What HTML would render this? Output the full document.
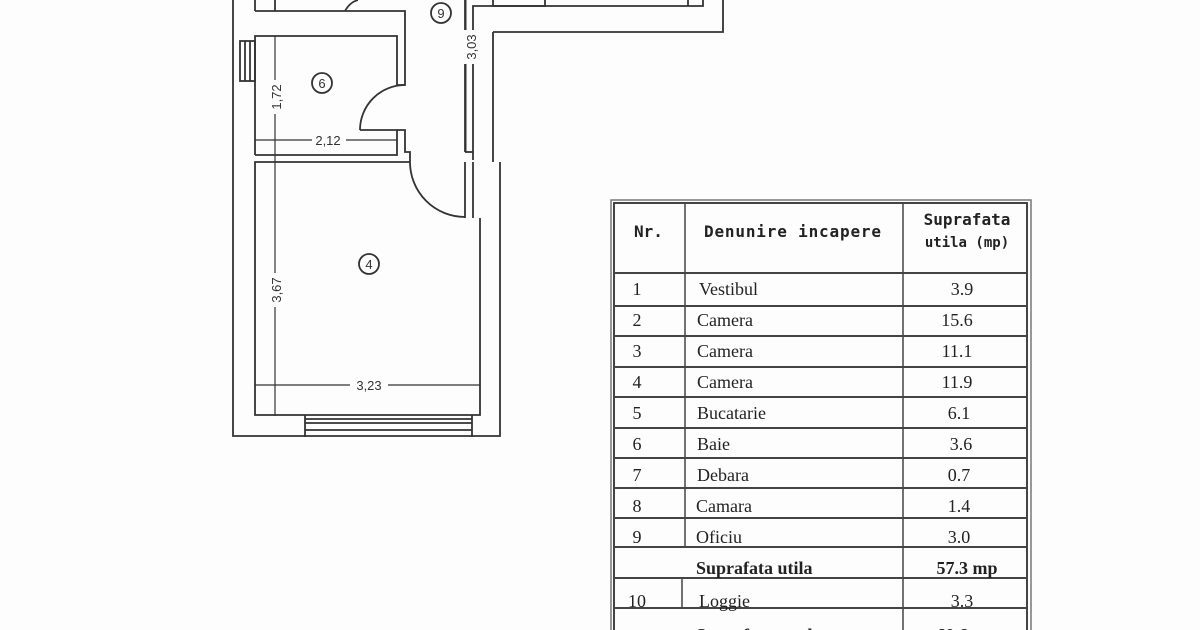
<!DOCTYPE html>
<html><head><style>
html,body{margin:0;padding:0;background:#fff;}
svg{display:block}
.t{font-family:"Liberation Serif",serif;font-size:18px;fill:#222}
.h{font-family:"DejaVu Sans Mono","Liberation Mono",monospace;font-size:16px;fill:#222;font-weight:bold}
.d{font-family:"Liberation Sans",sans-serif;font-size:13px;fill:#333}
</style></head><body>
<svg width="1200" height="630" viewBox="0 0 1200 630" xmlns="http://www.w3.org/2000/svg">
<rect width="1200" height="630" fill="#fdfdfd"/>
<g stroke="#333" stroke-width="1.8" fill="none">
<polyline points="233,0 233,436 500,436 500,162"/>
<line x1="493" y1="32" x2="493" y2="162"/>
<polyline points="493,32 723,32 723,0"/>
<polyline points="473,160 473,6 703,6 703,0"/>
<line x1="465" y1="0" x2="465" y2="152"/>
<line x1="465" y1="152" x2="473" y2="152"/>
<line x1="465" y1="162" x2="465" y2="218"/>
<line x1="473" y1="162" x2="473" y2="218"/>
<polyline points="480,218 480,415 255,415 255,162 410,162"/>
<line x1="305" y1="415" x2="305" y2="437"/>
<line x1="472" y1="415" x2="472" y2="437"/>
<line x1="305" y1="419" x2="472" y2="419"/>
<line x1="305" y1="423" x2="472" y2="423"/>
<line x1="305" y1="430" x2="472" y2="430"/>
<path d="M410,162 A55,55 0 0 0 465,217"/>
<polyline points="255,155 255,36 397,36 397,85 405,85 405,11 255,11"/>
<polyline points="360,130 397,130 397,155 255,155"/>
<polyline points="397,130 405,130 405,152 410,152 410,162"/>
<path d="M405,85 A45,45 0 0 0 360,130"/>
<line x1="255" y1="11" x2="255" y2="0"/>
<line x1="275" y1="11" x2="275" y2="0"/>
<rect x="240" y="41" width="15" height="40"/>
<line x1="245" y1="41" x2="245" y2="81"/><line x1="250" y1="41" x2="250" y2="81"/>
<path d="M345,11 Q350,2 358,0"/>
<polyline points="493,0 493,6 545,6 545,0"/>
<line x1="688" y1="0" x2="688" y2="6"/>
<line x1="275" y1="36" x2="275" y2="162" stroke-width="1.2"/>
<line x1="255" y1="140" x2="397" y2="140" stroke-width="1.2"/>
<line x1="275" y1="162" x2="275" y2="416" stroke-width="1.2"/>
<line x1="255" y1="385" x2="480" y2="385" stroke-width="1.2"/>
<line x1="466" y1="0" x2="466" y2="152" stroke-width="1"/>
<circle cx="441" cy="13" r="10"/><circle cx="322" cy="83" r="10"/><circle cx="369" cy="264" r="10"/>
</g>
<g class="d" text-anchor="middle">
<text x="441" y="18">9</text><text x="322" y="88">6</text><text x="369" y="269">4</text>
<rect x="312" y="132" width="34" height="14" fill="#fdfdfd"/><text x="328" y="145">2,12</text>
<rect x="350" y="377" width="38" height="14" fill="#fdfdfd"/><text x="369" y="390">3,23</text>
<g transform="translate(281,97) rotate(-90)"><rect x="-17" y="-12" width="34" height="14" fill="#fdfdfd"/><text x="0" y="0">1,72</text></g>
<g transform="translate(281,290) rotate(-90)"><rect x="-17" y="-12" width="34" height="14" fill="#fdfdfd"/><text x="0" y="0">3,67</text></g>
<g transform="translate(476,47) rotate(-90)"><rect x="-17" y="-12" width="34" height="14" fill="#fdfdfd"/><text x="0" y="0">3,03</text></g>
</g>
<g stroke="#444" fill="none">
<rect x="611" y="200" width="420" height="440" stroke-width="1.5" stroke="#777"/>
<rect x="614" y="203" width="413" height="440" stroke-width="2"/>
<line x1="685" y1="203" x2="685" y2="547" stroke-width="1.5"/>
<line x1="682" y1="578" x2="682" y2="608" stroke-width="1.5"/>
<line x1="903" y1="203" x2="903" y2="640" stroke-width="1.5"/>
<g stroke-width="2">
<line x1="614" y1="273" x2="1027" y2="273"/>
<line x1="614" y1="306" x2="1027" y2="306"/>
<line x1="614" y1="336" x2="1027" y2="336"/>
<line x1="614" y1="367" x2="1027" y2="367"/>
<line x1="614" y1="397" x2="1027" y2="397"/>
<line x1="614" y1="428" x2="1027" y2="428"/>
<line x1="614" y1="458" x2="1027" y2="458"/>
<line x1="614" y1="488" x2="1027" y2="488"/>
<line x1="614" y1="518" x2="1027" y2="518"/>
<line x1="614" y1="547" x2="1027" y2="547"/>
<line x1="614" y1="578" x2="1027" y2="578"/>
<line x1="614" y1="608" x2="1027" y2="608"/>
</g>
</g>
<g class="h">
<text x="634" y="237">Nr.</text>
<text x="704" y="237" textLength="177">Denunire incapere</text>
<text x="967" y="225" text-anchor="middle">Suprafata</text>
<text x="967" y="247" text-anchor="middle" font-size="14">utila (mp)</text>
</g>
<g class="t">
<g text-anchor="middle">
<text x="637" y="295">1</text><text x="637" y="326">2</text><text x="637" y="357">3</text>
<text x="637" y="388">4</text><text x="637" y="419">5</text><text x="637" y="450">6</text>
<text x="637" y="481">7</text><text x="637" y="512">8</text><text x="637" y="543">9</text>
<text x="637" y="607">10</text>
<text x="962" y="295">3.9</text><text x="957" y="326">15.6</text><text x="957" y="357">11.1</text>
<text x="957" y="388">11.9</text><text x="959" y="419">6.1</text><text x="961" y="450">3.6</text>
<text x="959" y="481">0.7</text><text x="959" y="512">1.4</text><text x="959" y="543">3.0</text>
<text x="967" y="574" font-weight="bold">57.3 mp</text>
<text x="962" y="607">3.3</text>
<text x="967" y="641" font-weight="bold">60.6 mp</text>
</g>
<text x="699" y="295">Vestibul</text><text x="697" y="326">Camera</text><text x="697" y="357">Camera</text>
<text x="697" y="388">Camera</text><text x="697" y="419">Bucatarie</text><text x="697" y="450">Baie</text>
<text x="697" y="481">Debara</text><text x="696" y="512">Camara</text><text x="696" y="543">Oficiu</text>
<text x="696" y="574" font-weight="bold">Suprafata utila</text>
<text x="699" y="607">Loggie</text>
<text x="696" y="641" font-weight="bold">Suprafata totala</text>
</g>
</svg>
</body></html>
